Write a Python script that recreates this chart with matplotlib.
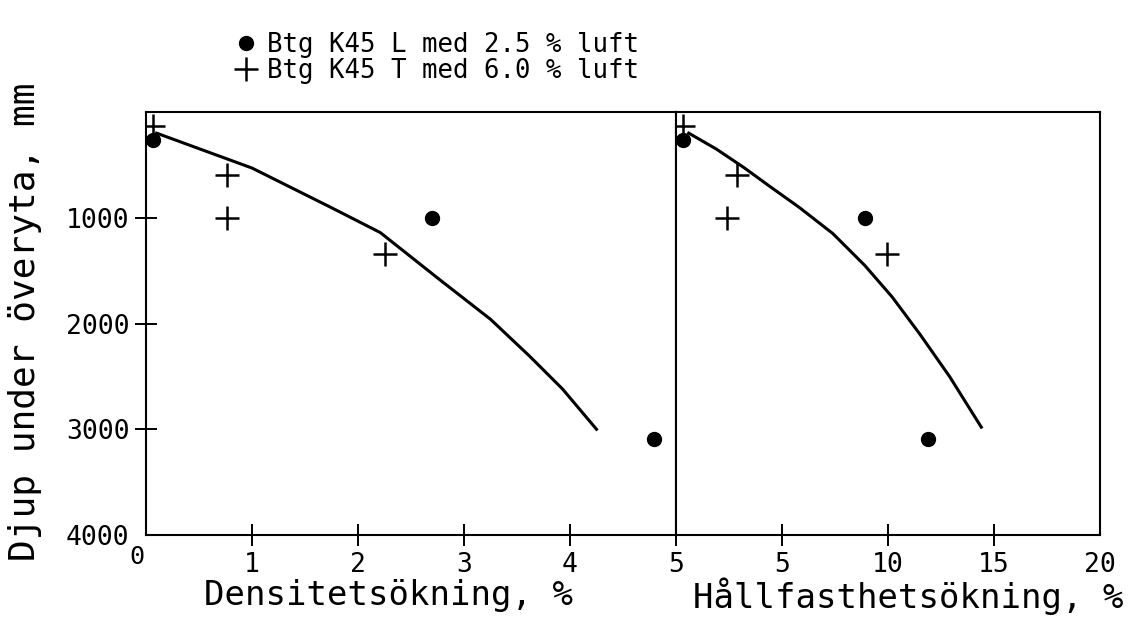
import matplotlib
matplotlib.use("Agg")
import matplotlib.pyplot as plt

plt.rcParams['font.family'] = ['DejaVu Sans Mono', 'DejaVu Sans']

# Data
depth_L = [265, 1000, 3090]          # Btg K45 L, depth mm
depth_T = [130, 595, 1000, 1345]     # Btg K45 T, depth mm

dens_L = [0.07, 2.70, 4.79]          # density increase %
dens_T = [0.07, 0.76, 0.76, 2.25]

hall_L = [0.33, 8.9, 11.9]           # strength increase %
hall_T = [0.33, 2.9, 2.4, 9.95]

dens_fit_x = [0.1, 1.0, 1.74, 2.21, 2.77, 3.25, 3.62, 3.93, 4.25]
dens_fit_y = [200, 530, 900, 1140, 1585, 1960, 2310, 2620, 3000]

hall_fit_x = [0.6, 1.9, 3.2, 4.4, 5.8, 7.4, 8.9, 10.2, 11.5, 12.9, 14.4]
hall_fit_y = [200, 350, 525, 700, 900, 1150, 1450, 1750, 2100, 2500, 2980]

left_xticks = [1, 2, 3, 4, 5]
right_xticks = [5, 10, 15, 20]
yticks = [1000, 2000, 3000, 4000]

label_L = "Btg K45 L med 2.5 % luft"
label_T = "Btg K45 T med 6.0 % luft"

W, H = 1139, 620
fig = plt.figure(figsize=(W / 100, H / 100), dpi=100)

ax1 = fig.add_axes([146 / W, 1 - 535 / H, 530 / W, 423 / H])
ax2 = fig.add_axes([676 / W, 1 - 535 / H, 424 / W, 423 / H])

lw_sp = 1.5
for ax in (ax1, ax2):
    for s in ax.spines.values():
        s.set_linewidth(lw_sp)
    ax.set_ylim(4000, 0)
    ax.tick_params(direction='inout', length=16, width=1.4, labelsize=19, pad=4)

ms_c = 10
ms_p = 17
# Left panel
ax1.plot(dens_fit_x, dens_fit_y, color='black', lw=2.2)
hL, = ax1.plot(dens_L, depth_L, 'o', color='black', ms=ms_c, label=label_L)
hT, = ax1.plot(dens_T, depth_T, '+', color='black', ms=ms_p, mew=1.8, label=label_T)
ax1.set_xlim(0, 5)
ax1.set_xticks(left_xticks)
ax1.set_yticks(yticks)
ax1.yaxis.get_major_ticks()[-1].tick1line.set_visible(False)
ax1.yaxis.get_major_ticks()[-1].tick2line.set_visible(False)
ax1.annotate("0", xy=(0, 4000), xytext=(-12.0, -15.5), textcoords='offset points',
             ha='left', va='center', fontsize=18)
ax1.set_xlabel("Densitetsökning, %", fontsize=24.5)
ax1.xaxis.set_label_coords((388 - 146) / 530, -(596 - 535) / 423)
ax1.xaxis.label.set_va('center')
ax1.set_ylabel("Djup under överyta, mm", fontsize=26)
ax1.yaxis.set_label_coords(-(146 - 25) / 530, (535 - 322) / 423)
ax1.yaxis.label.set_va('center')

# Right panel
ax2.plot(hall_fit_x, hall_fit_y, color='black', lw=2.2)
ax2.plot(hall_L, depth_L, 'o', color='black', ms=ms_c)
ax2.plot(hall_T, depth_T, '+', color='black', ms=ms_p, mew=1.8)
ax2.set_xlim(0, 20)
ax2.set_xticks(right_xticks)
ax2.xaxis.get_major_ticks()[-1].tick1line.set_visible(False)
ax2.set_yticks([])
ax2.set_xlabel("Hållfasthetsökning, %", fontsize=24.5)
ax2.xaxis.set_label_coords((908 - 676) / 424, -(596 - 535) / 423)
ax2.xaxis.label.set_va('center')

fig.legend(handles=[hL, hT], loc='upper left', bbox_to_anchor=(236 / W, 1 - 32 / H),
           frameon=False, fontsize=18.5, handlelength=0.8, handletextpad=0.4,
           labelspacing=0.0, borderaxespad=0, borderpad=0)

fig.savefig("out.png", dpi=100)
